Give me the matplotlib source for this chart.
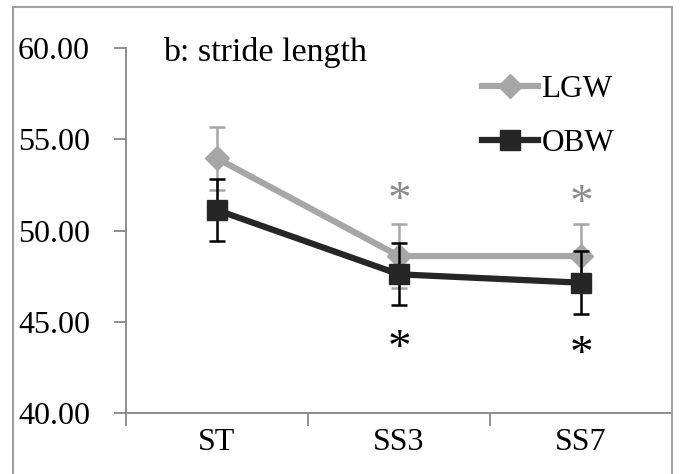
import numpy as np
import matplotlib.pyplot as plt
from matplotlib.patches import Rectangle
from matplotlib.lines import Line2D

# données
categories = ['ST', 'SS3', 'SS7']
lgw = [53.95, 48.6, 48.6]
lgw_err = [1.73, 1.75, 1.78]
obw = [51.12, 47.6, 47.14]
obw_err = [1.71, 1.70, 1.72]
# positions (valeurs y) des astérisques de significativité
etoiles_lgw = [None, 50.95, 50.8]
etoiles_obw = [None, 42.85, 42.5]

gris = '#A6A6A6'
noir = '#262626'
plt.rcParams['font.family'] = ['Liberation Serif', 'DejaVu Serif']

fig = plt.figure(figsize=(6.8, 4.74), dpi=100)
ax = fig.add_axes([126 / 680, 1 - 413 / 474, (672 - 126) / 680, (413 - 48) / 474])

# cadre gris autour du graphique
fig.patches.append(Rectangle((13 / 680, -0.05), (672 - 13) / 680, 1.05 - 7 / 474,
                             transform=fig.transFigure, fill=False,
                             edgecolor='#A0A0A0', linewidth=1.5, zorder=0))

x = np.arange(len(categories))

ax.errorbar(x, lgw, yerr=lgw_err, color=gris, ecolor=gris, elinewidth=1.8,
            capsize=6, capthick=1.8, linewidth=4.5, marker='D', markersize=12,
            zorder=3)
ax.errorbar(x, obw, yerr=obw_err, color=noir, ecolor='black', elinewidth=1.8,
            capsize=6, capthick=1.8, linewidth=4.5, marker='s', markersize=15,
            zorder=4)

for i in range(len(categories)):
    if etoiles_lgw[i] is not None:
        ax.text(x[i], etoiles_lgw[i], '*', color='#8C8C8C', fontsize=34,
                ha='center', va='baseline')
    if etoiles_obw[i] is not None:
        ax.text(x[i], etoiles_obw[i], '*', color='black', fontsize=34,
                ha='center', va='baseline')

ax.set_xlim(-0.5, 2.5)
ax.set_ylim(40, 60)
ax.set_yticks([40, 45, 50, 55, 60])
ax.set_yticklabels(['%.2f' % v for v in [40, 45, 50, 55, 60]])
ax.set_xticks([-0.5, 0.5, 1.5, 2.5])
ax.set_xticklabels([])
ax.set_xticks(x, minor=True)
ax.set_xticklabels(categories, minor=True)
ax.tick_params(axis='x', which='minor', length=0, pad=11, labelsize=23)
ax.tick_params(axis='x', which='major', length=9, color='#868686', width=1.3)
ax.tick_params(axis='y', length=9, color='#868686', width=1.3, labelsize=23, pad=17)

for s in ['top', 'right']:
    ax.spines[s].set_visible(False)
for s in ['left', 'bottom']:
    ax.spines[s].set_color('#868686')
    ax.spines[s].set_linewidth(1.3)

ax.text(0.068, 0.987, 'b: stride length', transform=ax.transAxes, fontsize=24.5,
        ha='left', va='center')

poignees = [Line2D([], [], color=gris, linewidth=4.5, marker='D', markersize=12),
            Line2D([], [], color=noir, linewidth=4.5, marker='s', markersize=15)]
ax.legend(poignees, ['LGW', 'OBW'], loc='upper left',
          bbox_to_anchor=(482 / 680, 1 - 75 / 474),
          bbox_transform=fig.transFigure, frameon=False, fontsize=22.5,
          handlelength=1.8, handletextpad=0.1, labelspacing=0.8, borderpad=0,
          borderaxespad=0)

fig.savefig('out.png', dpi=100)
